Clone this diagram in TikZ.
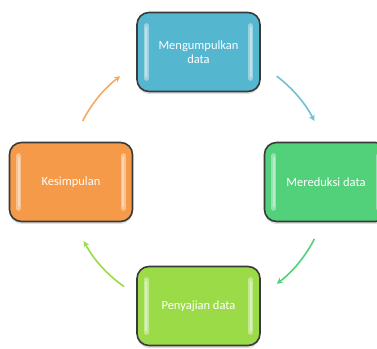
\documentclass[tikz,border=0pt]{standalone}
\usepackage{fontspec}
\setmainfont{Carlito}
\usetikzlibrary{arrows.meta,shadows}
\definecolor{cblue}{HTML}{55B6D0}
\definecolor{cgreen}{HTML}{52D07A}
\definecolor{clime}{HTML}{9CDB48}
\definecolor{corange}{HTML}{F59A48}
\definecolor{cborder}{HTML}{3A3A3A}
\tikzset{
  box/.style={draw=cborder, line width=1.6pt, rounded corners=12pt,
    minimum width=123pt, minimum height=79pt, text=white, align=center,
    font=\fontsize{12.5}{14.5}\selectfont,
    drop shadow={opacity=0.25, shadow xshift=0pt, shadow yshift=-2.5pt}},
  hl/.style={line width=5pt, line cap=round, draw=white, opacity=0.4},
  hlc/.style={line width=2pt, line cap=round, draw=white, opacity=0.35},
  cyc/.style={line width=1.6pt, -{Stealth[length=6pt,width=6pt]}},
}
\begin{document}
\begin{tikzpicture}[x=1pt,y=1pt]
\useasboundingbox (0,0) rectangle (377,348);
\clip (0,0) rectangle (377,348);
\coordinate (c) at (198.5,168);
\node[box, fill=cblue] (top) at (198.5,296) {Mengumpulkan\\data};
\node[box, fill=cgreen] (right) at (326,166) {Mereduksi data};
\node[box, fill=clime] (bottom) at (198.5,42) {Penyajian data};
\node[box, fill=corange] (left) at (71,166) {Kesimpulan};
\foreach \n in {top,right,bottom,left}{
  \draw[hl] ([shift={(10,14)}]\n.south west) -- ([shift={(10,-14)}]\n.north west);
  \draw[hl] ([shift={(-10,14)}]\n.south east) -- ([shift={(-10,-14)}]\n.north east);
  \draw[hlc] ([shift={(10,16)}]\n.south west) -- ([shift={(10,-16)}]\n.north west);
  \draw[hlc] ([shift={(-10,16)}]\n.south east) -- ([shift={(-10,-16)}]\n.north east);
}
\draw[cyc, draw=cblue!85] (c) ++(53:130) arc[start angle=53, end angle=27, radius=130];
\draw[cyc, draw=cgreen] (c) ++(-27:130) arc[start angle=-27, end angle=-53, radius=130];
\draw[cyc, draw=clime] (c) ++(235:130) arc[start angle=235, end angle=208, radius=130];
\draw[cyc, draw=corange!85] (c) ++(153:130) arc[start angle=153, end angle=127, radius=130];
\end{tikzpicture}
\end{document}
